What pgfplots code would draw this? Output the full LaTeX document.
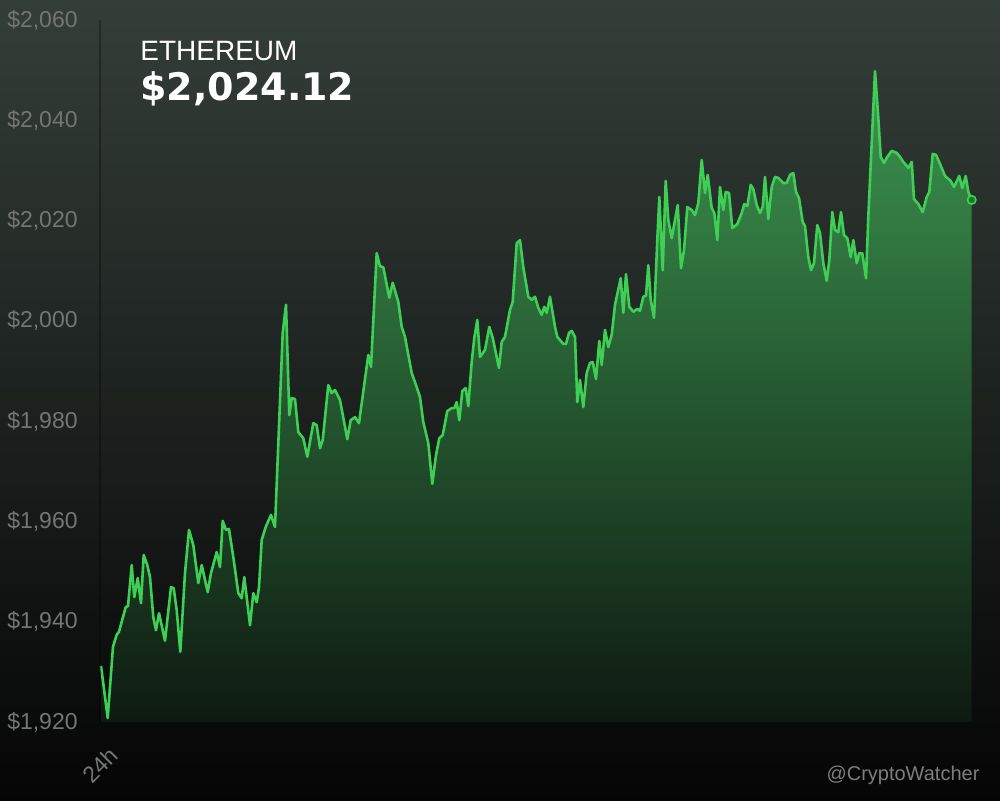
\documentclass[border=0pt]{standalone}
\usepackage{fontspec}
\setmainfont{Liberation Sans}
\newfontfamily\heavyfont{DejaVu Sans}
\usepackage{pgfplots}
\usepackage{pgfplotstable}
\pgfplotsset{compat=1.18}
\usetikzlibrary{calc,backgrounds}

\definecolor{bgtop}{RGB}{52,62,57}
\definecolor{bgbot}{RGB}{5,5,5}
\definecolor{areatop}{RGB}{60,150,80}
\definecolor{areabot}{RGB}{14,26,17}
\definecolor{linegreen}{RGB}{62,207,85}
\definecolor{markfill}{RGB}{25,120,40}
\definecolor{ticklbl}{RGB}{115,118,116}
\definecolor{wmark}{RGB}{125,125,125}

% x = minutes-ish position along the 24h window (0..872), y = price in USD
\pgfplotstableread{
x y
1 1931.2
7.7 1920.8
13 1935.0
16.7 1937.4
19 1938.0
25.7 1942.9
28 1943.1
31.7 1951.3
34.3 1944.9
37.7 1948.7
41 1943.7
43.7 1953.3
47.3 1951.3
50 1948.9
53.3 1940.9
56 1938.3
59 1941.7
65 1936.2
71 1946.9
73.7 1946.7
76.7 1942.3
80.3 1934.0
85 1949.7
89 1958.3
93.3 1955.3
98.3 1947.7
101.7 1951.3
107.7 1945.9
111 1949.7
116.7 1953.9
120 1950.9
122.7 1960.1
126 1958.3
129 1958.5
133.3 1952.9
138.3 1945.7
141.7 1944.7
144.3 1948.9
150 1939.3
153.3 1945.7
156.7 1943.9
159 1946.9
161.7 1956.3
165.7 1958.9
171 1961.3
175 1958.9
182.7 1997.6
186 2003.2
189.3 1981.2
191.7 1984.6
195 1984.4
198.3 1977.8
203.3 1976.6
207.3 1972.9
213.3 1979.6
216.7 1979.2
220 1974.6
222.7 1976.2
228.3 1987.2
231.7 1985.6
235 1986.2
240 1984.2
247.3 1976.4
250.7 1980.2
255 1980.8
259 1979.6
268.3 1993.2
271 1990.8
276.7 2013.5
280 2010.9
283.3 2010.7
289.3 2004.6
292.7 2007.6
298.3 2003.8
301.7 1998.8
305 1996.8
311.7 1989.6
316.7 1986.8
320 1984.8
323.3 1979.8
328.3 1975.6
332.3 1967.5
336 1973.2
339.3 1976.6
342.7 1977.2
347.3 1982.0
351.7 1982.6
354.3 1982.6
356.7 1983.8
359.3 1980.2
362.3 1986.0
365.7 1986.6
368.3 1983.0
371.7 1991.8
374.3 1996.6
377.3 2000.2
380 1992.8
385 1994.2
389.3 1998.8
392.7 1996.6
399 1990.6
401.7 1995.8
405 1996.8
410 2002.2
412.7 2003.8
416.7 2015.5
420 2016.1
423.3 2010.7
428.3 2004.8
431.7 2004.2
435 2004.8
438.3 2002.6
441.7 2001.2
444.3 2002.8
446.7 2001.6
450 2004.8
455 1998.8
457.3 1996.8
463.3 1995.4
466 1995.4
469 1997.6
471.7 1998.0
475 1996.8
477.3 1983.8
480 1988.2
483.3 1982.8
486.7 1989.6
490 1991.6
492.7 1991.8
496 1988.4
499.3 1996.0
501.7 1991.2
505 1998.2
508.3 1994.8
511.7 1997.2
515 2003.2
520.7 2008.5
523.3 2001.6
526 2009.3
529.3 2002.8
533.3 2001.8
537.3 2002.4
540 2002.0
543.3 2004.8
546 2005.0
548.3 2011.1
550.7 2004.2
554 2000.6
557.3 2016.1
559.3 2024.7
562.7 2010.1
565.7 2027.9
568.3 2020.1
571.7 2016.5
577.7 2023.1
581 2010.5
584 2014.1
587.3 2022.7
591.7 2022.1
595 2021.1
598.3 2023.5
601.7 2032.1
605 2025.5
607.7 2029.1
611.7 2022.5
614.3 2021.5
617.3 2016.1
620 2026.7
623.3 2022.1
625.7 2025.7
629 2025.5
632.3 2018.5
637.3 2019.3
641.7 2021.5
644.3 2023.3
647.3 2022.9
650.7 2027.1
653.3 2026.3
656.7 2023.1
660 2021.5
662.7 2022.7
665 2028.7
668.3 2020.3
671.7 2026.7
675 2028.7
678.3 2028.5
683.3 2027.5
686.7 2027.5
690 2029.1
693.3 2029.5
696 2025.7
699 2024.5
702.7 2019.7
705 2018.9
708.3 2012.7
711 2010.1
714 2011.5
717.3 2019.1
720 2017.5
723.3 2011.5
726.7 2008.0
729.3 2012.1
732.3 2021.7
735 2018.1
738.3 2017.7
741 2021.7
744 2017.1
747.3 2016.5
750.7 2012.7
753.3 2016.1
756.7 2011.5
759.3 2013.5
762.3 2013.5
766 2008.5
768.3 2020.7
771 2032.5
775 2049.8
778.3 2040.5
780.7 2032.7
784 2031.5
787.3 2032.7
791.7 2033.9
796.7 2033.5
800 2032.7
803.3 2031.7
806.7 2030.9
808.3 2030.5
811.7 2031.7
814 2024.3
818.3 2023.3
822.7 2021.7
826.7 2024.7
829.3 2025.7
832.7 2033.3
836 2033.1
840 2031.3
845 2028.9
850.7 2027.9
854 2026.7
859.3 2028.9
862.3 2026.5
865.7 2028.9
868.3 2025.7
871.7 2024.12
}\ethdata

\begin{document}
\begin{tikzpicture}
\begin{axis}[
    scale only axis,
    width=436pt, height=351pt,
    xmin=0, xmax=872,
    ymin=1920, ymax=2060,
    clip=false,
    axis line style={draw=none},
    major tick length=0pt,
    ytick={1920,1940,1960,1980,2000,2020,2040,2060},
    yticklabels={{\$1,920},{\$1,940},{\$1,960},{\$1,980},{\$2,000},{\$2,020},{\$2,040},{\$2,060}},
    yticklabel style={anchor=east, inner sep=0pt, xshift=-11pt,
        text=ticklbl, font=\fontsize{11.5}{13}\selectfont},
    xtick={0},
    xticklabels={24h},
    xticklabel style={anchor=center, inner sep=0pt, yshift=-21.5pt, rotate=45,
        text=ticklbl, font=\fontsize{11.5}{13}\selectfont},
]
% shaded area under the price line
\addplot[draw=none, top color=areatop, bottom color=areabot]
    table[x=x, y=y] {\ethdata}
    -- (axis cs:871.7,1920) -- (axis cs:1,1920) -- cycle;
% price line
\addplot[linegreen, line width=1.3pt, line join=round, mark=none]
    table[x=x, y=y] {\ethdata};
% last price marker
\addplot[only marks, mark=*, mark size=2.1pt,
    mark options={fill=markfill, draw=linegreen, line width=0.8pt}]
    coordinates {(871.7,2024.12)};

\draw[black, opacity=0.3, line width=0.6pt] (rel axis cs:0,0) -- (rel axis cs:0,1);

\node[anchor=base west, text=white, inner sep=0pt, font=\fontsize{14}{16}\selectfont]
    at (rel axis cs:0.0459,0.943) {ETHEREUM};
\node[anchor=base west, text=white, inner sep=0pt, font=\heavyfont\bfseries\fontsize{19}{22}\selectfont]
    at (rel axis cs:0.0459,0.886) {\$2,024.12};
\node[anchor=base east, text=wmark, inner sep=0pt, font=\fontsize{10}{12}\selectfont]
    at (rel axis cs:1.009,-0.084) {@CryptoWatcher};
\end{axis}
\begin{scope}[on background layer]
\shade[top color=bgtop, bottom color=bgbot]
    ($(current axis.south west)+(-50pt,-39pt)$) rectangle +(500pt,400pt);
\end{scope}
\end{tikzpicture}
\end{document}
